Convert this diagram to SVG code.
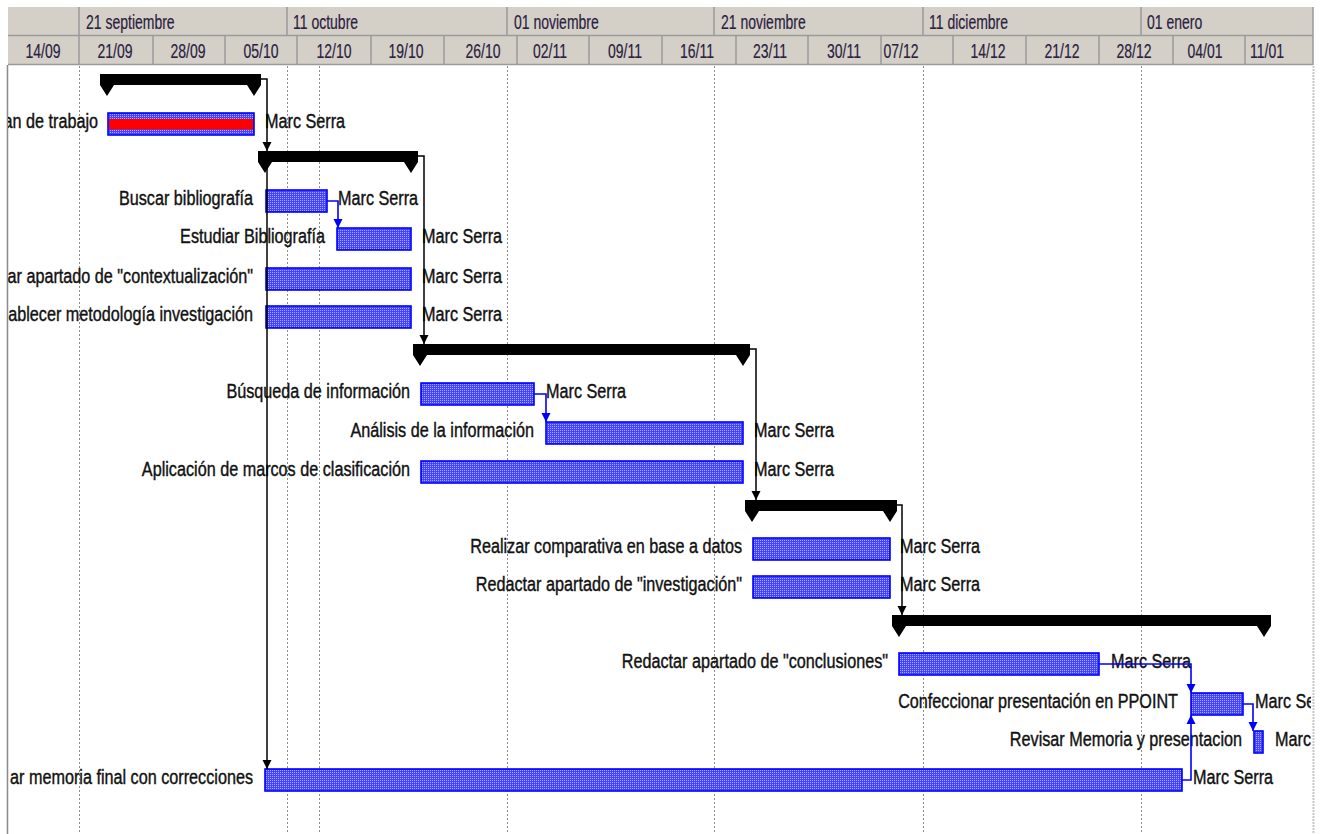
<svg xmlns="http://www.w3.org/2000/svg" width="1326" height="834" viewBox="0 0 1326 834">
<style>
.hdr{fill:#d4d0c8}
.hl{stroke:#9a9a9a;stroke-width:1.5;fill:none}
.ht{font-family:"Liberation Sans",Arial,sans-serif;font-size:20px;fill:#2a2040;stroke:#2a2040;stroke-width:0.2}
.htc{text-anchor:middle}
.grid{stroke:#8c8c8c;stroke-width:1;stroke-dasharray:2 2;fill:none}
.t{font-family:"Liberation Sans",Arial,sans-serif;font-size:20px;fill:#111;stroke:#111;stroke-width:0.4}
.l{text-anchor:end}
.bar{fill:url(#hatch);stroke:#0000ff;stroke-width:1.6}
.sum{fill:#000}
.bc{stroke:#000;stroke-width:1.5;fill:none;marker-end:url(#ab)}
.uc{stroke:#0000ff;stroke-width:1.6;fill:none;marker-end:url(#au)}
</style>
<defs>
<pattern id="hatch" width="2" height="2" patternUnits="userSpaceOnUse"><rect width="2" height="2" fill="#4444ff"/><rect width="1" height="1" fill="#a8a8ff"/></pattern>
<marker id="ab" viewBox="0 0 10 10" refX="10" refY="5" markerWidth="9" markerHeight="10" markerUnits="userSpaceOnUse" orient="auto"><path d="M0,0 L10,5 L0,10 Z" fill="#000"/></marker>
<marker id="au" viewBox="0 0 10 10" refX="10" refY="5" markerWidth="9" markerHeight="10" markerUnits="userSpaceOnUse" orient="auto"><path d="M0,0 L10,5 L0,10 Z" fill="#0000ff"/></marker>
<clipPath id="area"><rect x="8" y="66" width="1303" height="768"/></clipPath>
</defs>
<rect width="1326" height="834" fill="#fff"/>
<g id="header">
<rect class="hdr" x="8" y="7" width="1305" height="58"/>
<path class="hl" d="M8,35.5 H1313 M8,64.5 H1313 M1313,7 V65"/>
<path class="hl" d="M79,7 V35 M287,7 V35 M507,7 V35 M714,7 V35 M923,7 V35 M1141,7 V35"/>
<path class="hl" d="M79,36 V64 M153,36 V64 M225,36 V64 M297,36 V64 M371,36 V64 M444,36 V64 M517,36 V64 M589,36 V64 M662,36 V64 M736,36 V64 M808,36 V64 M881,36 V64 M953,36 V64 M1026,36 V64 M1099,36 V64 M1173,36 V64 M1245,36 V64"/>
<text class="ht" transform="translate(86 29) scale(.70 1)">21 septiembre</text>
<text class="ht" transform="translate(293 29) scale(.70 1)">11 octubre</text>
<text class="ht" transform="translate(514 29) scale(.70 1)">01 noviembre</text>
<text class="ht" transform="translate(721 29) scale(.70 1)">21 noviembre</text>
<text class="ht" transform="translate(929 29) scale(.70 1)">11 diciembre</text>
<text class="ht" transform="translate(1147 29) scale(.70 1)">01 enero</text>
<text class="ht htc" transform="translate(43 58) scale(.70 1)">14/09</text>
<text class="ht htc" transform="translate(115 58) scale(.70 1)">21/09</text>
<text class="ht htc" transform="translate(188 58) scale(.70 1)">28/09</text>
<text class="ht htc" transform="translate(261 58) scale(.70 1)">05/10</text>
<text class="ht htc" transform="translate(334 58) scale(.70 1)">12/10</text>
<text class="ht htc" transform="translate(406 58) scale(.70 1)">19/10</text>
<text class="ht htc" transform="translate(483 58) scale(.70 1)">26/10</text>
<text class="ht htc" transform="translate(550 58) scale(.70 1)">02/11</text>
<text class="ht htc" transform="translate(625 58) scale(.70 1)">09/11</text>
<text class="ht htc" transform="translate(697 58) scale(.70 1)">16/11</text>
<text class="ht htc" transform="translate(770 58) scale(.70 1)">23/11</text>
<text class="ht htc" transform="translate(844 58) scale(.70 1)">30/11</text>
<text class="ht htc" transform="translate(901 58) scale(.70 1)">07/12</text>
<text class="ht htc" transform="translate(988 58) scale(.70 1)">14/12</text>
<text class="ht htc" transform="translate(1062 58) scale(.70 1)">21/12</text>
<text class="ht htc" transform="translate(1134 58) scale(.70 1)">28/12</text>
<text class="ht htc" transform="translate(1205 58) scale(.70 1)">04/01</text>
<text class="ht htc" transform="translate(1267 58) scale(.70 1)">11/01</text>
</g>
<g id="gridlines">
<path d="M7.5,65 V834" stroke="#8a8a8a" stroke-width="1.5"/>
<path class="grid" d="M79.5,66 V834 M287.5,66 V834 M319.5,66 V834 M507.5,66 V834 M714.5,66 V834 M923.5,66 V834 M1141.5,66 V834"/>
<path d="M1313.5,66 V834" stroke="#c8c8c8" stroke-width="2" stroke-dasharray="2 1"/>
</g>
<g clip-path="url(#area)">
<g id="summary1"><path class="sum" d="M100,74 H261 V85 L254,96 L247,85 H114 L107,96 L100,85 Z"/></g>
<g id="task-plan">
<rect class="bar" x="108" y="113" width="146" height="22"/>
<rect x="109" y="119" width="144" height="10.5" fill="#ff0000"/>
<text class="t l" transform="translate(98 128) scale(.81 1)">an de trabajo</text>
<text class="t" transform="translate(265 128) scale(.81 1)">Marc Serra</text>
</g>
<g id="summary2"><path class="sum" d="M258,151 H418 V162 L411,173 L404,162 H272 L265,173 L258,162 Z"/></g>
<g id="task-buscar">
<rect class="bar" x="266" y="190" width="61" height="22"/>
<text class="t l" transform="translate(253 205) scale(.81 1)">Buscar bibliografía</text>
<text class="t" transform="translate(338 205) scale(.81 1)">Marc Serra</text>
</g>
<g id="task-estudiar">
<rect class="bar" x="337" y="228" width="74" height="22"/>
<text class="t l" transform="translate(325 243) scale(.81 1)">Estudiar Bibliografía</text>
<text class="t" transform="translate(422 243) scale(.81 1)">Marc Serra</text>
</g>
<g id="task-contextualizacion">
<rect class="bar" x="266" y="268" width="145" height="22"/>
<text class="t l" transform="translate(253 283) scale(.81 1)">ar apartado de "contextualización"</text>
<text class="t" transform="translate(422 283) scale(.81 1)">Marc Serra</text>
</g>
<g id="task-metodologia">
<rect class="bar" x="266" y="306" width="145" height="22"/>
<text class="t l" transform="translate(253 321) scale(.81 1)">ablecer metodología investigación</text>
<text class="t" transform="translate(422 321) scale(.81 1)">Marc Serra</text>
</g>
<g id="summary3"><path class="sum" d="M413,344 H750 V355 L743,366 L736,355 H427 L420,366 L413,355 Z"/></g>
<g id="task-busqueda">
<rect class="bar" x="421" y="383" width="113" height="22"/>
<text class="t l" transform="translate(410 398) scale(.81 1)">Búsqueda de información</text>
<text class="t" transform="translate(546 398) scale(.81 1)">Marc Serra</text>
</g>
<g id="task-analisis">
<rect class="bar" x="546" y="422" width="197" height="22"/>
<text class="t l" transform="translate(534 437) scale(.81 1)">Análisis de la información</text>
<text class="t" transform="translate(754 437) scale(.81 1)">Marc Serra</text>
</g>
<g id="task-aplicacion">
<rect class="bar" x="421" y="461" width="322" height="22"/>
<text class="t l" transform="translate(410 476) scale(.81 1)">Aplicación de marcos de clasificación</text>
<text class="t" transform="translate(754 476) scale(.81 1)">Marc Serra</text>
</g>
<g id="summary4"><path class="sum" d="M745,500 H897 V511 L890,522 L883,511 H759 L752,522 L745,511 Z"/></g>
<g id="task-comparativa">
<rect class="bar" x="753" y="538" width="137" height="22"/>
<text class="t l" transform="translate(742 553) scale(.81 1)">Realizar comparativa en base a datos</text>
<text class="t" transform="translate(900 553) scale(.81 1)">Marc Serra</text>
</g>
<g id="task-investigacion">
<rect class="bar" x="753" y="576" width="137" height="22"/>
<text class="t l" transform="translate(742 591) scale(.81 1)">Redactar apartado de "investigación"</text>
<text class="t" transform="translate(900 591) scale(.81 1)">Marc Serra</text>
</g>
<g id="summary5"><path class="sum" d="M892,615 H1271 V626 L1264,637 L1257,626 H906 L899,637 L892,626 Z"/></g>
<g id="task-conclusiones">
<rect class="bar" x="899" y="653" width="200" height="22"/>
<text class="t l" transform="translate(888 668) scale(.81 1)">Redactar apartado de "conclusiones"</text>
<text class="t" transform="translate(1111 668) scale(.81 1)">Marc Serra</text>
</g>
<g id="task-ppoint">
<rect class="bar" x="1191" y="693" width="52" height="22"/>
<text class="t l" transform="translate(1178 708) scale(.81 1)">Confeccionar presentación en PPOINT</text>
<text class="t" transform="translate(1255 708) scale(.81 1)">Marc Se</text>
</g>
<g id="task-revisar">
<rect class="bar" x="1254" y="731" width="9" height="22"/>
<text class="t l" transform="translate(1242 746) scale(.81 1)">Revisar Memoria y presentacion</text>
<text class="t" transform="translate(1275 746) scale(.81 1)">Marc</text>
</g>
<g id="task-memoria">
<rect class="bar" x="265" y="769" width="917" height="22"/>
<text class="t l" transform="translate(253 784) scale(.81 1)">ar memoria final con correcciones</text>
<text class="t" transform="translate(1193 784) scale(.81 1)">Marc Serra</text>
</g>
</g>
<g id="connectors">
<path class="bc" d="M261,79 H267 V151"/>
<path class="bc" d="M267,151 V769"/>
<path class="bc" d="M418,156 H424 V344"/>
<path class="bc" d="M750,349 H756 V500"/>
<path class="bc" d="M897,505 H902 V615"/>
<path class="uc" d="M327,201 H338 V228"/>
<path class="uc" d="M534,394 H546 V422"/>
<path class="uc" d="M1099,664 H1191 V693"/>
<path class="uc" d="M1243,704 H1253 V731"/>
<path class="uc" d="M1182,780 H1191 V715"/>
</g>
</svg>
